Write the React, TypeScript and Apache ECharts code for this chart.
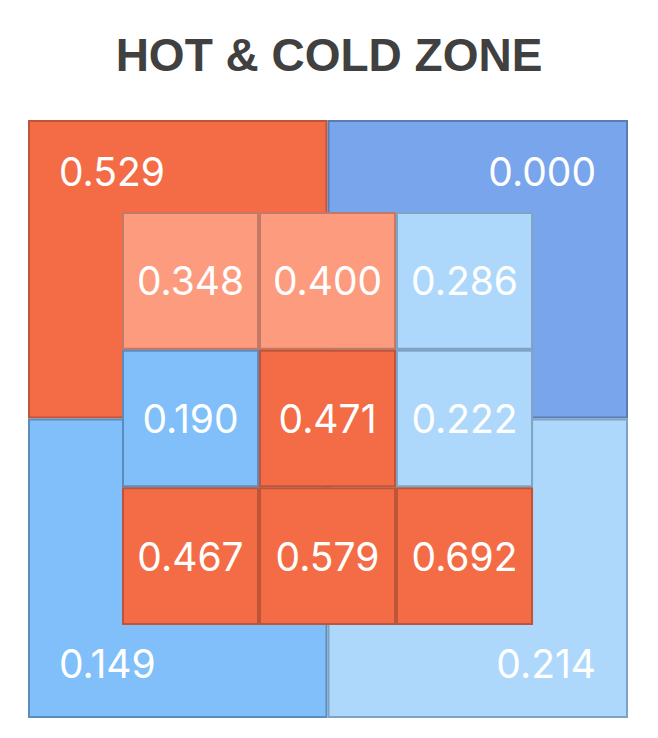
import React, { useEffect, useRef } from "react";
import * as echarts from "echarts";

// Inner 3x3 zone values (row-major, top row first)
const innerValues: number[][] = [
  [0.348, 0.4, 0.286],
  [0.19, 0.471, 0.222],
  [0.467, 0.579, 0.692],
];

// Outer quadrant values: top-left, top-right, bottom-left, bottom-right
const outerValues: number[] = [0.529, 0.0, 0.149, 0.214];

// Axis extents (inner zone spans 0..3 in both directions)
const xExtent: [number, number] = [-0.686, 3.693];
const yExtent: [number, number] = [-0.668, 3.675];
const splitAt = 1.5;

const HOT = { fill: "#F46C45", stroke: "#BE5438" };
const WARM = { fill: "#FD9B7F", stroke: "#C47966" };
const LIGHT_BLUE = { fill: "#ADD8FC", stroke: "#7FA3C3" };
const MID_BLUE = { fill: "#80BFFA", stroke: "#5A8DBE" };
const DEEP_BLUE = { fill: "#78A5EC", stroke: "#587DB4" };

function colorFor(v: number) {
  if (v > 0.4) return HOT;
  if (v >= 0.3) return WARM;
  if (v >= 0.2) return LIGHT_BLUE;
  if (v >= 0.1) return MID_BLUE;
  return DEEP_BLUE;
}

export default function App() {
  const ref = useRef<HTMLDivElement>(null);

  useEffect(() => {
    if (!ref.current) return;
    const chart = echarts.init(ref.current, undefined, { renderer: "svg" });

    // data rows: [x0, y0, x1, y1, value, kind]
    // kind: 0 inner (centered label), 1 TL, 2 TR, 3 BL, 4 BR
    const outerData = [
      [xExtent[0], yExtent[0], splitAt, splitAt, outerValues[0], 1],
      [splitAt, yExtent[0], xExtent[1], splitAt, outerValues[1], 2],
      [xExtent[0], splitAt, splitAt, yExtent[1], outerValues[2], 3],
      [splitAt, splitAt, xExtent[1], yExtent[1], outerValues[3], 4],
    ];
    const innerData: number[][] = [];
    innerValues.forEach((row, r) =>
      row.forEach((v, c) => innerData.push([c, r, c + 1, r + 1, v, 0]))
    );

    const renderItem = (_params: any, api: any) => {
      const p0 = api.coord([api.value(0), api.value(1)]);
      const p1 = api.coord([api.value(2), api.value(3)]);
      const x = Math.min(p0[0], p1[0]);
      const y = Math.min(p0[1], p1[1]);
      const w = Math.abs(p1[0] - p0[0]);
      const h = Math.abs(p1[1] - p0[1]);
      const v = api.value(4) as number;
      const kind = api.value(5) as number;
      const c = colorFor(v);
      let tx = x + w / 2;
      let ty = y + h / 2;
      let align = "center";
      if (kind === 1 || kind === 3) {
        tx = x + 31;
        align = "left";
      }
      if (kind === 2 || kind === 4) {
        tx = x + w - 32;
        align = "right";
      }
      if (kind === 1 || kind === 2) ty = y + 51;
      if (kind === 3 || kind === 4) ty = y + h - 55;
      return {
        type: "group",
        children: [
          {
            type: "rect",
            shape: { x: x + 1, y: y + 1, width: w - 2, height: h - 2 },
            style: { fill: c.fill, stroke: c.stroke, lineWidth: 2 },
          },
          {
            type: "text",
            style: {
              text: v.toFixed(3),
              x: tx,
              y: ty,
              align,
              verticalAlign: "middle",
              fill: "#ffffff",
              fontSize: 39,
              fontFamily: "Inter",
              fontWeight: 400,
            },
          },
        ],
      };
    };

    chart.setOption({
      animation: false,
      backgroundColor: "#ffffff",
      title: {
        text: "HOT & COLD ZONE",
        left: "center",
        top: 27,
        textStyle: {
          fontSize: 46,
          fontWeight: "bold",
          fontFamily: "Liberation Sans",
          color: "#404040",
        },
      },
      grid: { left: 28, top: 120, width: 600, height: 598 },
      xAxis: {
        type: "value",
        min: xExtent[0],
        max: xExtent[1],
        show: false,
      },
      yAxis: {
        type: "value",
        min: yExtent[0],
        max: yExtent[1],
        inverse: true,
        show: false,
      },
      series: [
        {
          type: "custom",
          name: "outer",
          renderItem,
          data: outerData,
          clip: false,
        },
        {
          type: "custom",
          name: "inner",
          renderItem,
          data: innerData,
          clip: false,
        },
      ],
    });

    return () => chart.dispose();
  }, []);

  return (
    <div
      ref={ref}
      style={{ position: "fixed", left: 0, top: 0, width: 658, height: 738 }}
    />
  );
}
